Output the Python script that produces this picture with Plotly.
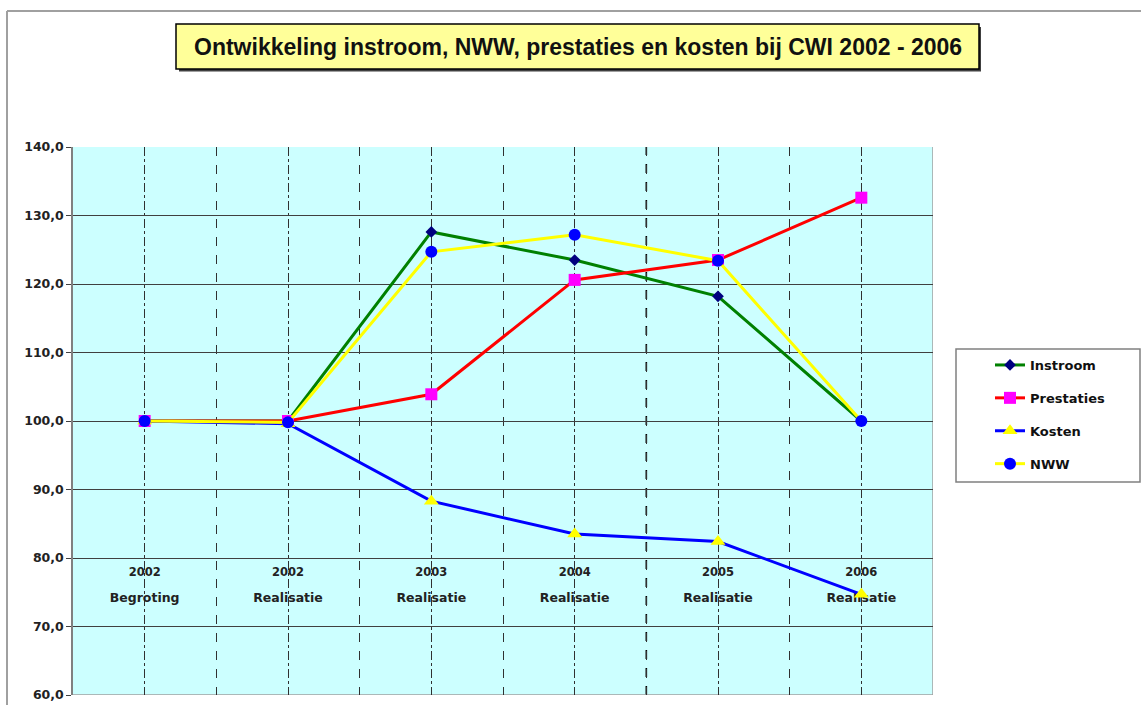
import plotly.graph_objects as go

# Index series (2002 budget = 100)
years = ["2002", "2002", "2003", "2004", "2005", "2006"]
stages = ["Begroting", "Realisatie", "Realisatie", "Realisatie", "Realisatie", "Realisatie"]

instroom = [100.0, 100.0, 127.6, 123.5, 118.2, 100.0]
prestaties = [100.0, 100.0, 103.9, 120.6, 123.5, 132.6]
kosten = [100.0, 99.6, 88.3, 83.5, 82.4, 74.7]
nww = [100.0, 99.8, 124.7, 127.2, 123.4, 100.0]

title_text = "Ontwikkeling instroom, NWW, prestaties en kosten bij CWI 2002 - 2006"

W, H = 1141, 705
SANS = "Liberation Sans, Arial, sans-serif"
WIDE = "DejaVu Sans, Verdana, sans-serif"


def px(x):
    return x / W


def py(y):
    return 1 - y / H


x = list(range(len(years)))

series = [
    ("Instroom", instroom, "#008000", dict(symbol="diamond", color="#000080", size=9)),
    ("Prestaties", prestaties, "#FF0000", dict(symbol="square", color="#FF00FF", size=12)),
    ("Kosten", kosten, "#0000FF", dict(symbol="triangle-up", color="#FFFF00", size=13)),
    ("NWW", nww, "#FFFF00", dict(symbol="circle", color="#0000FF", size=12)),
]

fig = go.Figure()

# category labels sit inside the plot, just below the 80 line (drawn beneath the series)
fig.add_trace(go.Scatter(
    x=x, y=[77.8] * len(x), mode="text", text=["<b>" + t + "</b>" for t in years],
    textposition="middle center", textfont=dict(family=WIDE, size=11.5, color="#222222"),
    showlegend=False, hoverinfo="skip",
))
fig.add_trace(go.Scatter(
    x=x, y=[74.0] * len(x), mode="text", text=["<b>" + t + "</b>" for t in stages],
    textposition="middle center", textfont=dict(family=WIDE, size=12.5, color="#222222"),
    showlegend=False, hoverinfo="skip",
))

for name, vals, lc, mk in series:
    fig.add_trace(go.Scatter(
        x=x, y=vals, name=name, mode="lines+markers",
        line=dict(color=lc, width=3),
        marker=dict(symbol=mk["symbol"], color=mk["color"], size=mk["size"], line=dict(width=0)),
        legendgroup=name,
    ))

shapes = []
# chart area frame
shapes.append(dict(type="line", xref="paper", yref="paper", x0=px(7), x1=1.0, y0=py(11), y1=py(11),
                   line=dict(color="#A0A0A0", width=2)))
shapes.append(dict(type="line", xref="paper", yref="paper", x0=px(7), x1=px(7), y0=py(11), y1=0,
                   line=dict(color="#A0A0A0", width=2)))
# title box with drop shadow
shapes.append(dict(type="rect", xref="paper", yref="paper", x0=px(179), x1=px(981), y0=py(71.5), y1=py(27),
                   fillcolor="#404040", line=dict(width=0), layer="above"))
shapes.append(dict(type="rect", xref="paper", yref="paper", x0=px(176), x1=px(979), y0=py(69), y1=py(24),
                   fillcolor="#FFFF99", line=dict(color="#000000", width=1.5), layer="above"))
# legend box
shapes.append(dict(type="rect", xref="paper", yref="paper", x0=px(956), x1=px(1140), y0=py(482), y1=py(349),
                   fillcolor="#FFFFFF", line=dict(color="#808080", width=1.5), layer="below"))
# heavier boundary line between 2004 and 2005
shapes.append(dict(type="line", xref="x", yref="y", x0=3.5, x1=3.5, y0=60, y1=140,
                   line=dict(color="#000000", width=1.6, dash="dash"), layer="below"))
# right edge of the plot area
shapes.append(dict(type="line", xref="x", yref="y", x0=5.5, x1=5.5, y0=60, y1=140,
                   line=dict(color="#A0A0A0", width=1.5), layer="below"))
# bottom edge of the plot area
shapes.append(dict(type="line", xref="x", yref="y", x0=-0.5, x1=5.5, y0=60, y1=60,
                   line=dict(color="#A0A0A0", width=1.5), layer="below"))

annotations = [dict(
    text="<b>" + title_text + "</b>", xref="paper", yref="paper",
    x=px(578), y=py(46.5), xanchor="center", yanchor="middle", showarrow=False,
    font=dict(family=SANS, size=23, color="#111111"),
)]

fig.update_layout(
    width=W, height=H,
    margin=dict(l=0, r=0, t=0, b=0, autoexpand=False),
    paper_bgcolor="#FFFFFF",
    plot_bgcolor="#CCFFFF",
    separators=",.",
    font=dict(family=WIDE, size=12, color="#000000"),
    xaxis=dict(
        domain=[px(73), px(933)],
        range=[-0.5, 5.5],
        automargin=False,
        tickmode="linear", tick0=0, dtick=1,
        showticklabels=False, ticks="",
        showgrid=True, gridcolor="#303030", gridwidth=1, griddash="dashdot",
        minor=dict(tick0=0.5, dtick=1, showgrid=True, gridcolor="#303030", gridwidth=1, griddash="dash"),
        zeroline=False, showline=False,
    ),
    yaxis=dict(
        domain=[py(695), py(147)],
        range=[60, 140],
        automargin=False,
        tickmode="linear", tick0=60, dtick=10,
        tickformat=".1f",
        ticks="outside", ticklen=5, tickcolor="#404040",
        tickfont=dict(family=WIDE, size=12.5, color="#222222", weight="bold"),
        showgrid=True, gridcolor="#404040", gridwidth=1.2,
        showline=True, linecolor="#808080", linewidth=1.5,
        zeroline=False,
    ),
    showlegend=True,
    legend=dict(
        x=px(990), y=py(350), xanchor="left", yanchor="top",
        bgcolor="rgba(0,0,0,0)", borderwidth=0,
        font=dict(family=WIDE, size=13, color="#111111", weight="bold"),
        tracegroupgap=13, itemwidth=30,
        traceorder="grouped",
    ),
    shapes=shapes,
    annotations=annotations,
)

fig.write_html("out.html")
